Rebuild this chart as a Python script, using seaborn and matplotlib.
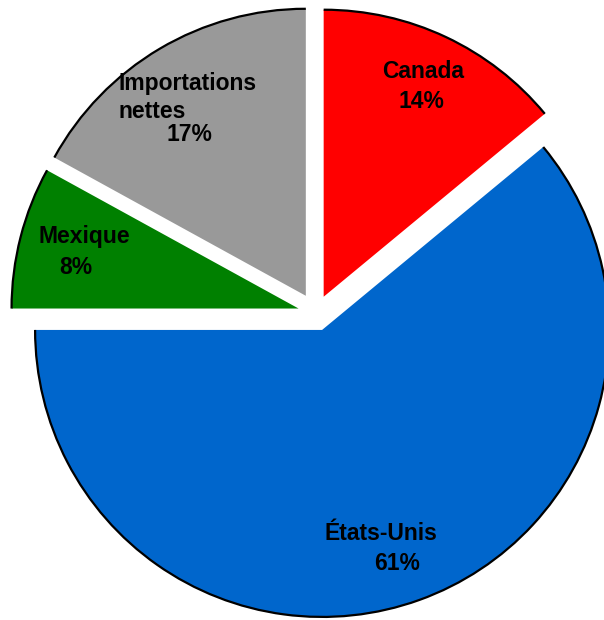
import matplotlib
matplotlib.use("Agg")
import matplotlib.pyplot as plt
from matplotlib.patches import Arc
import seaborn as sns

# Share of supply by source (%)
sources = ["Canada", "États-Unis", "Mexique", "Importations nettes"]
shares = [14, 61, 8, 17]
colors = ["#FF0000", "#0066CC", "#008000", "#999999"]

# label lines for each slice
name_lines = [["Canada"], ["États-Unis"], ["Mexique"], ["Importations", "nettes"]]

sns.set_theme(style="white")
plt.rcParams["font.family"] = ["Liberation Sans", "DejaVu Sans"]

W, H = 604, 620
fig = plt.figure(figsize=(W / 100, H / 100), dpi=100)
ax = fig.add_axes([0, 0, 1, 1])

radius = 287
center = (316, H - 313)
explode = [18, 18, 18, 20]

wedges, _ = ax.pie(
    shares,
    colors=colors,
    startangle=90,
    counterclock=False,
    radius=radius,
    center=center,
    explode=explode,
    wedgeprops=dict(linewidth=0, edgecolor="none"),
)

# black outline along the outer rim of each slice only
for w in wedges:
    ax.add_patch(Arc(w.center, 2 * w.r, 2 * w.r, theta1=w.theta1, theta2=w.theta2,
                     color="black", lw=1.6, zorder=3))

# label placement (pixel coords from top-left): name lines, then percentage
name_pos = [
    [(423, 78, "center")],
    [(381, 540, "center")],
    [(84, 243, "center")],
    [(118, 90, "left"), (118, 118, "left")],
]
pct_pos = [(421, 108), (397, 570), (76, 274), (189, 141)]

fs = 16.5
for lines, npos, ppos, val in zip(name_lines, name_pos, pct_pos, shares):
    for text, (px, py, ha) in zip(lines, npos):
        ax.text(px, H - py, text, ha=ha, va="baseline", fontsize=fs,
                fontweight="bold", color="black", zorder=4)
    ax.text(ppos[0], H - ppos[1], f"{val}%", ha="center", va="baseline",
            fontsize=fs, fontweight="bold", color="black", zorder=4)

ax.set_xlim(0, W)
ax.set_ylim(0, H)
ax.set_aspect("equal")
ax.axis("off")

fig.savefig("out.png", dpi=100, facecolor="white")
